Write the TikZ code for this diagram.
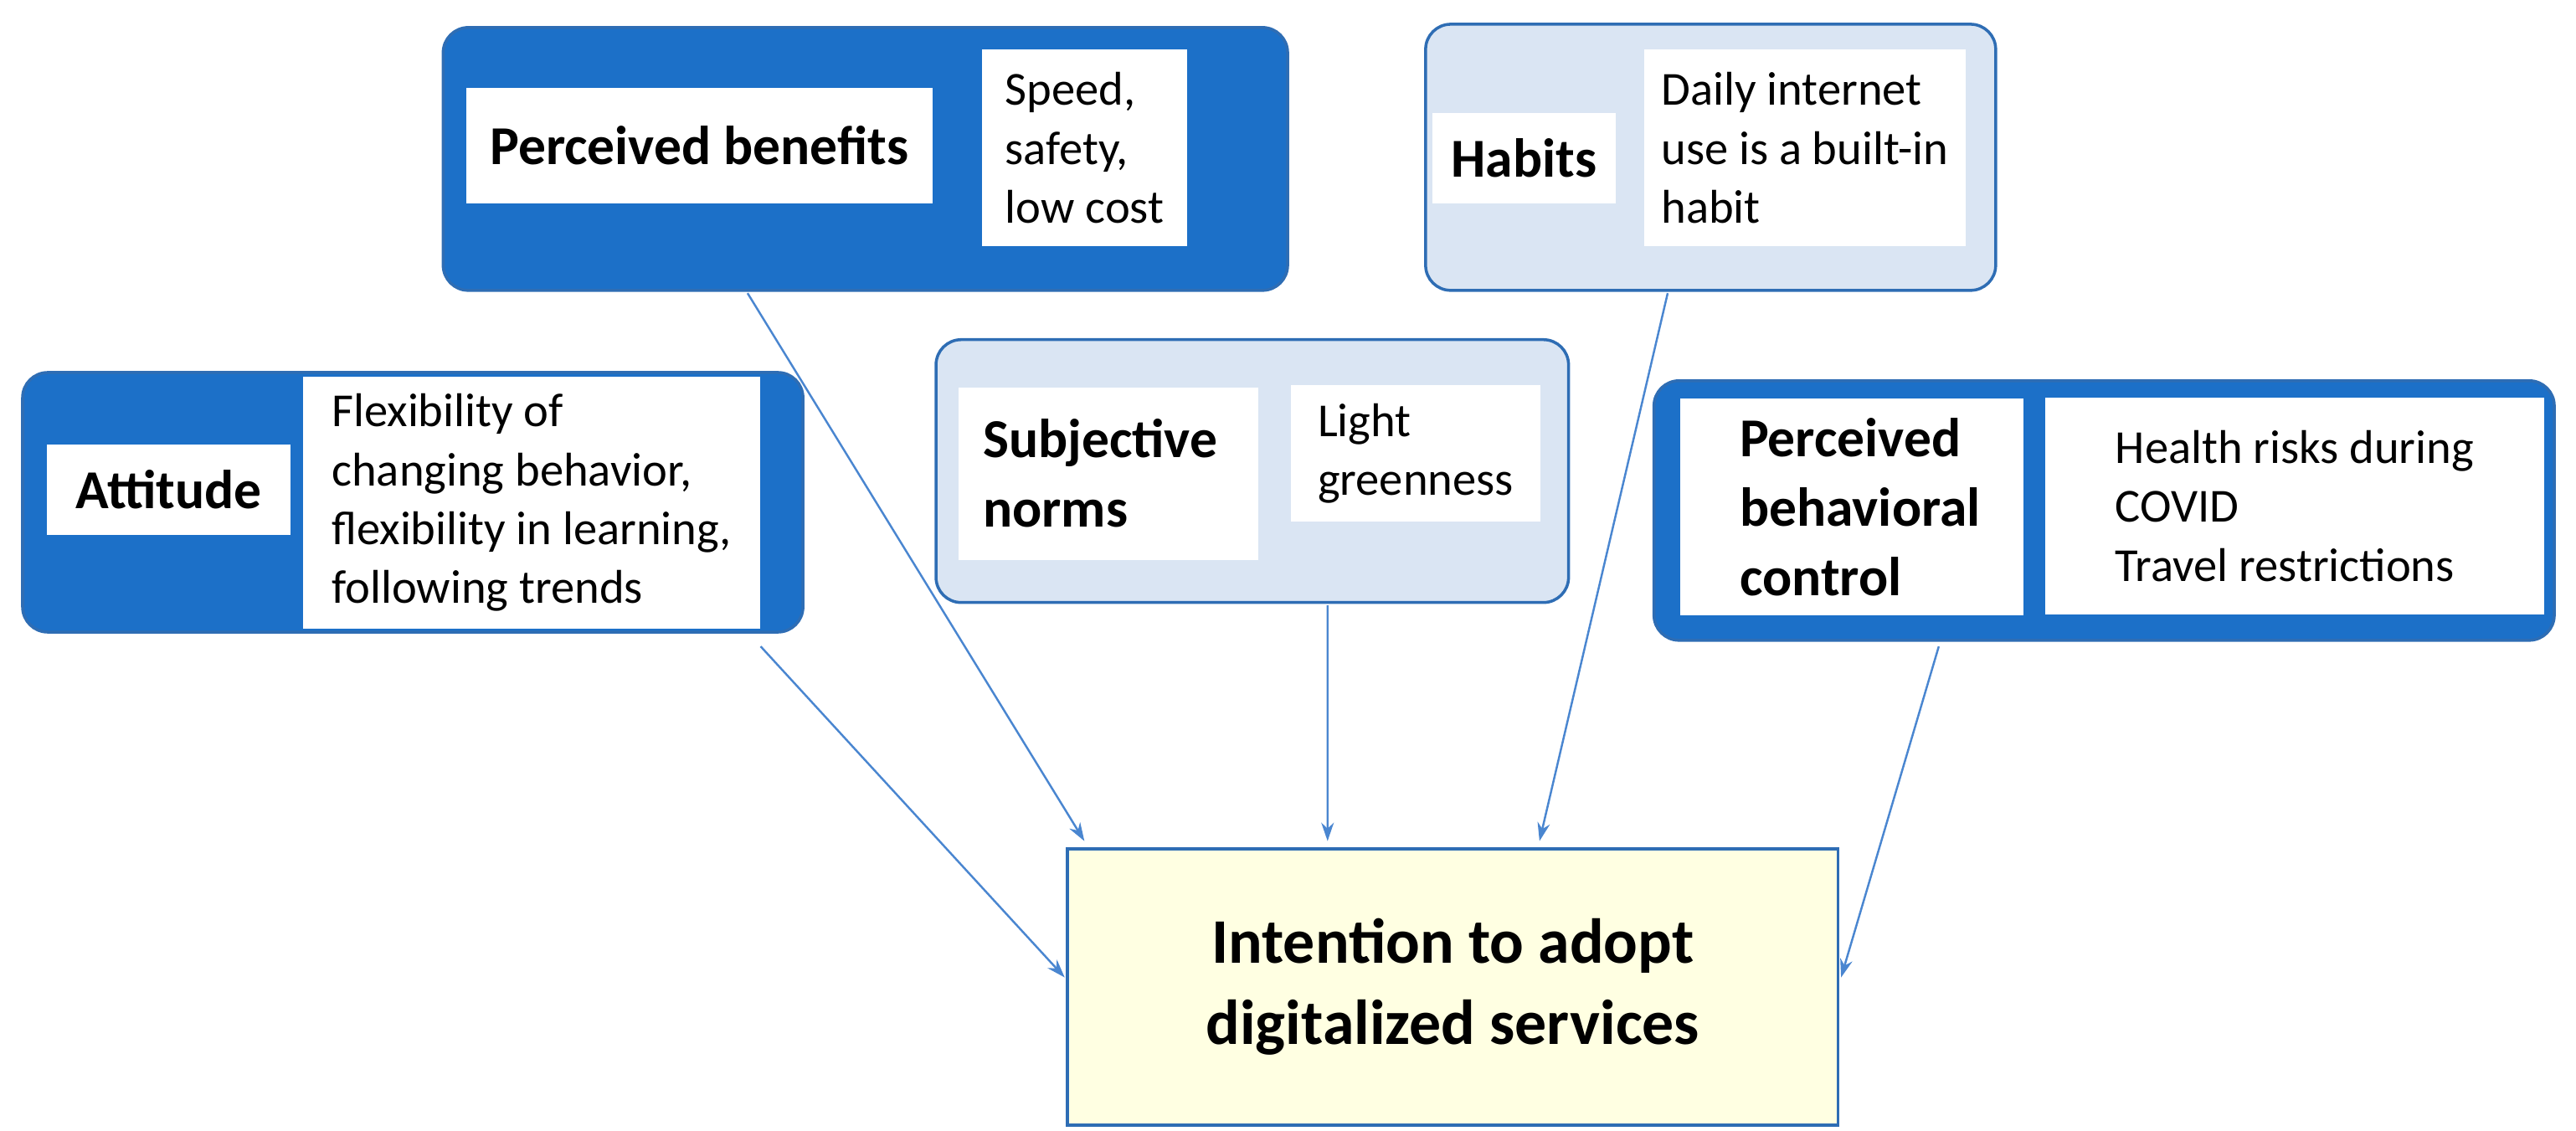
\documentclass[tikz,border=0pt]{standalone}
\usepackage{fontspec}
\setmainfont{Carlito}
\usetikzlibrary{arrows.meta}
\definecolor{darkblue}{HTML}{1C70C8}
\definecolor{paleblue}{HTML}{DAE5F3}
\definecolor{edgeblue}{HTML}{2E6DB4}
\definecolor{arrowblue}{HTML}{4A86D0}
\definecolor{paleyellow}{HTML}{FFFFE2}
\tikzset{
  outer/.style={rectangle, rounded corners=0.3cm, draw=edgeblue, line width=1pt, anchor=north west, inner sep=0pt},
  dark/.style={outer, fill=darkblue},
  light/.style={outer, fill=paleblue},
  label/.style={rectangle, fill=white, anchor=north west, inner sep=0pt, font=\fontsize{9.5pt}{12pt}\selectfont\bfseries, align=left},
  info/.style={rectangle, fill=white, anchor=west, inner sep=3pt, font=\fontsize{8.2pt}{10.2pt}\selectfont, align=left},
  arrow/.style={draw=arrowblue, line width=0.7pt, -{Stealth[length=0.22cm, width=0.15cm]}}
}
\begin{document}
\begin{tikzpicture}[scale=1.9625, every node/.style={transform shape}]
\useasboundingbox (0,0) rectangle (15.68,6.88);
% Outer boxes
\node (pb) [dark, minimum width=5.14cm, minimum height=1.6cm] at (2.68,6.73) {};
\node (hb) [light, minimum width=3.47cm, minimum height=1.62cm] at (8.66,6.75) {};
\node (at) [dark, minimum width=4.75cm, minimum height=1.58cm] at (0.12,4.63) {};
\node (sn) [light, minimum width=3.85cm, minimum height=1.6cm] at (5.68,4.83) {};
\node (pc) [dark, minimum width=5.48cm, minimum height=1.58cm] at (10.05,4.58) {};
% Inner boxes
\node (pbl) [label, minimum width=2.84cm, minimum height=0.7cm, align=center] at (2.83,6.35) {Perceived benefits};
\node (pbt) [info, minimum width=1.25cm, minimum height=1.2cm] at (5.97,5.98) {Speed,\\safety,\\low cost};
\node (hbl) [label, minimum width=1.12cm, minimum height=0.55cm, align=center] at (8.71,6.2) {Habits};
\node (hbt) [info, minimum width=1.83cm, minimum height=1.2cm] at (10.0,5.98) {Daily internet\\use is a built-in\\habit};
\node (atl) [label, minimum width=1.48cm, minimum height=0.55cm, align=center] at (0.28,4.18) {Attitude};
\node (att) [info, minimum width=2.78cm, minimum height=1.53cm] at (1.84,3.82) {Flexibility of\\changing behavior,\\flexibility in learning,\\following trends};
\node (snl) [label, minimum width=1.82cm, minimum height=1.05cm] at (5.83,4.53) {\hspace*{0.1cm}Subjective\hspace*{0.2cm}\\\hspace*{0.1cm}norms};
\node (snt) [info, minimum width=1.52cm, minimum height=0.83cm] at (7.85,4.12) {Light\\greenness};
\node (pcl) [label, minimum width=2.09cm, minimum height=1.32cm] at (10.22,4.46) {\hspace*{0.1cm}Perceived\\\hspace*{0.1cm}behavioral\\\hspace*{0.1cm}control};
\node (pct) [info, minimum width=3.04cm, minimum height=1.32cm] at (12.44,3.80) {Health risks during\\COVID\\Travel restrictions};
% Target
\node (tgt) [rectangle, draw=edgeblue, line width=1pt, fill=paleyellow, minimum width=4.69cm, minimum height=1.68cm, anchor=north west, align=center, font=\fontsize{11pt}{14pt}\selectfont\bfseries] at (6.48,1.73) {Intention to adopt\\digitalized services};
% Arrows
\draw [arrow] ([xshift=1.87cm]pb.south west) -- ([xshift=0.12cm,yshift=0.03cm]tgt.north west);
\draw [arrow] ([xshift=4.51cm,yshift=-0.07cm]at.south west) -- ([yshift=-0.8cm]tgt.north west);
\draw [arrow] ([xshift=2.4cm]sn.south west) -- ([xshift=1.6cm,yshift=0.03cm]tgt.north west);
\draw [arrow] ([xshift=1.49cm]hb.south west) -- ([xshift=2.89cm,yshift=0.03cm]tgt.north west);
\draw [arrow] ([xshift=1.75cm,yshift=-0.02cm]pc.south west) -- ([yshift=-0.8cm]tgt.north east);
\end{tikzpicture}
\end{document}
